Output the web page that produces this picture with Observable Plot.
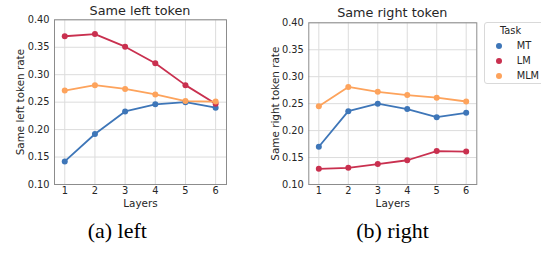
<!DOCTYPE html>
<html><head><meta charset="utf-8">
<script src="https://cdn.jsdelivr.net/npm/d3@7"></script>
<script src="https://cdn.jsdelivr.net/npm/@observablehq/plot@0.6"></script>
<style>
body{margin:0;background:#fff;}
#fig{position:relative;width:541px;height:257px;overflow:hidden;font-family:"DejaVu Sans",sans-serif;color:#262626;}
.panel{position:absolute;top:0;}
.title{position:absolute;font-size:12.8px;line-height:1;white-space:nowrap;transform:translateX(-50%);}
.caption{position:absolute;font-family:"Liberation Serif","Times New Roman",serif;font-size:22px;line-height:1;white-space:nowrap;transform:translateX(-50%);color:#000;}
#legend{position:absolute;left:484px;top:22px;width:70px;height:62px;border:1px solid #d9d9d9;border-radius:3px;box-sizing:border-box;background:#fff;}
.lt{position:absolute;font-size:9.8px;line-height:1;white-space:nowrap;}
.dot{position:absolute;width:6px;height:6px;border-radius:50%;}
</style>
</head><body>
<div id="fig"></div>
<script>
const layers = [1, 2, 3, 4, 5, 6];
const tasks = ["MT", "LM", "MLM"];
const taskColors = ["#3e76b8", "#c9304f", "#fda35c"];
const yTicks = [0.10, 0.15, 0.20, 0.25, 0.30, 0.35, 0.40];

const leftMT  = [0.142, 0.192, 0.233, 0.246, 0.250, 0.240];
const leftLM  = [0.370, 0.374, 0.351, 0.321, 0.281, 0.247];
const leftMLM = [0.271, 0.281, 0.274, 0.264, 0.252, 0.251];

const rightMT  = [0.170, 0.236, 0.250, 0.240, 0.225, 0.233];
const rightLM  = [0.129, 0.131, 0.138, 0.145, 0.162, 0.161];
const rightMLM = [0.245, 0.281, 0.272, 0.266, 0.261, 0.254];

const titles = ["Same left token", "Same right token"];
const yLabels = ["Same left token rate", "Same right token rate"];
const xLabel = "Layers";
const captions = ["(a) left", "(b) right"];
const legendTitle = "Task";

function rows(series) {
  const out = [];
  tasks.forEach((t, i) => series[i].forEach((v, j) => out.push({task: t, layer: layers[j], value: v})));
  return out;
}

function panel(series, ylabel, opts) {
  const data = rows(series);
  return Plot.plot({
    width: opts.width, height: 215,
    marginLeft: opts.ml, marginTop: opts.mt, marginRight: opts.mr, marginBottom: 31,
    style: {fontFamily: "DejaVu Sans", fontSize: "9.8px", color: "#262626", background: "transparent", overflow: "visible"},
    x: {domain: [0.66, 6.36]},
    y: {domain: [0.10, 0.40]},
    color: {domain: tasks, range: taskColors},
    marks: [
      Plot.gridX(layers, {stroke: "#dcdcdc", strokeOpacity: 1}),
      Plot.gridY(yTicks, {stroke: "#dcdcdc", strokeOpacity: 1}),
      Plot.frame({stroke: "#8c8c8c"}),
      Plot.axisX(layers, {tickSize: 0, tickPadding: 3, label: null, fill: "#262626"}),
      Plot.axisX({label: xLabel, ticks: [], tickSize: 0, labelAnchor: "center", labelArrow: "none", labelOffset: 22, fontSize: 10.4, fill: "#262626"}),
      Plot.axisY(yTicks, {tickSize: 0, tickPadding: 5, tickFormat: d3.format(".2f"), label: null, fill: "#262626"}),
      Plot.axisY({label: ylabel, ticks: [], tickSize: 0, labelAnchor: "center", labelArrow: "none", labelOffset: opts.lo, fontSize: 10.4, fill: "#262626"}),
      Plot.line(data, {x: "layer", y: "value", stroke: "task", z: "task", strokeWidth: 1.8}),
      Plot.dot(data, {x: "layer", y: "value", fill: "task", r: 3})
    ]
  });
}

const fig = document.getElementById("fig");

const p1 = panel([leftMT, leftLM, leftMLM], yLabels[0], {width: 240, ml: 54, mt: 19.3, mr: 14, lo: 38});
p1.classList.add("panel"); p1.style.left = "0px";
fig.appendChild(p1);

const p2 = panel([rightMT, rightLM, rightMLM], yLabels[1], {width: 215, ml: 38.3, mt: 22.3, mr: 8.7, lo: 37.5});
p2.classList.add("panel"); p2.style.left = "270px";
fig.appendChild(p2);

function addText(cls, txt, x, y) {
  const d = document.createElement("div");
  d.className = cls; d.textContent = txt;
  d.style.left = x + "px"; d.style.top = y + "px";
  fig.appendChild(d);
}
addText("title", titles[0], 140, 4.9);
addText("title", titles[1], 392.3, 7.2);
addText("caption", captions[0], 117.3, 219.9);
addText("caption", captions[1], 392.5, 219.9);

const lg = document.createElement("div");
lg.id = "legend";
fig.appendChild(lg);
addText("lt", legendTitle, 500, 26);
tasks.forEach((t, i) => {
  const cy = 45.7 + 15 * i;
  const dot = document.createElement("div");
  dot.className = "dot";
  dot.style.background = taskColors[i];
  dot.style.left = (498.7 - 3) + "px";
  dot.style.top = (cy - 3) + "px";
  fig.appendChild(dot);
  addText("lt", t, 516.7, cy - 4.7);
});
</script>
</body></html>
